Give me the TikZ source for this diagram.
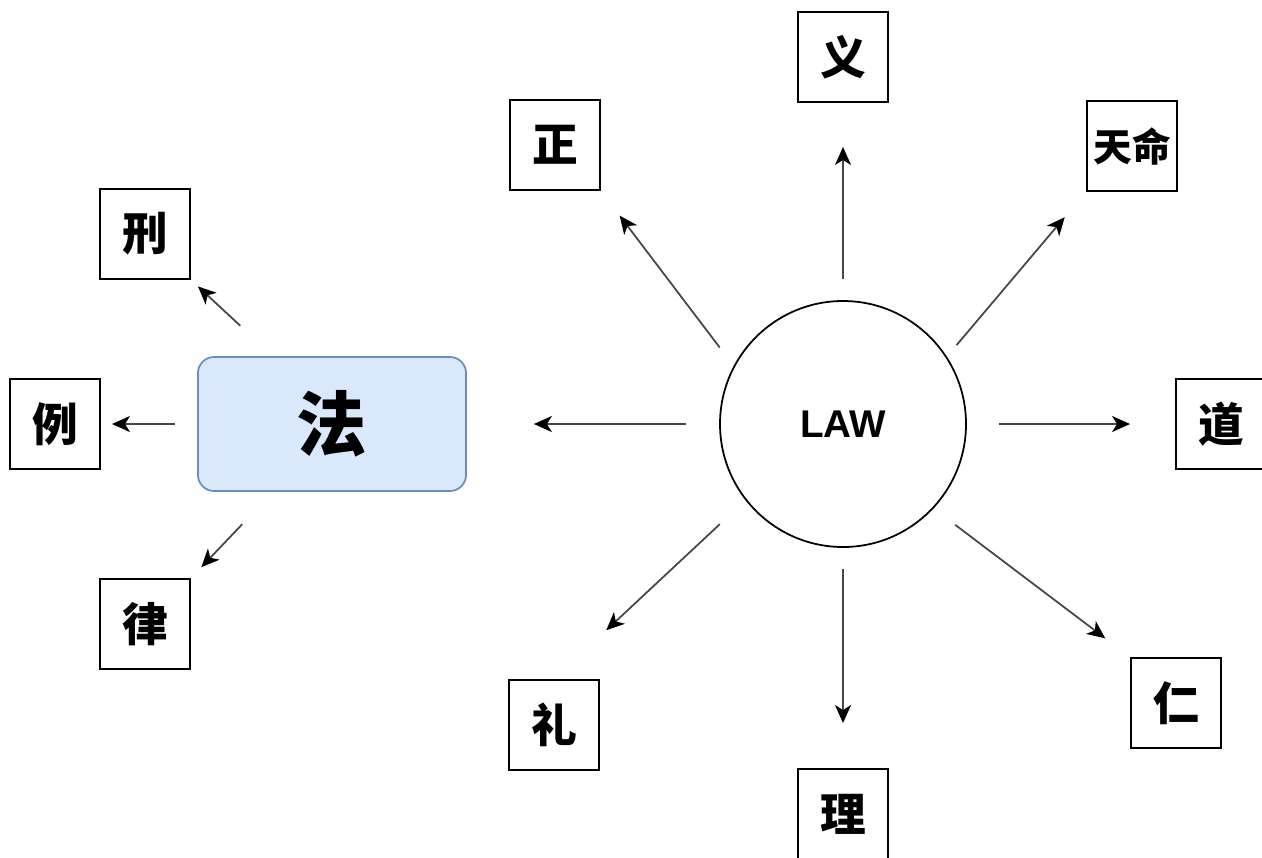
\documentclass[tikz,border=0pt]{standalone}
\usepackage{fontspec}
\usepackage{xcolor}
\usepackage{tikz}
\usetikzlibrary{shapes.geometric, arrows.meta, positioning}
\newfontfamily\cjk{Noto Sans CJK SC}
\newfontfamily\latinsans{Liberation Sans}
\definecolor{fablue}{RGB}{218,232,252}
\definecolor{faborder}{RGB}{108,142,191}
\definecolor{linegray}{RGB}{70,70,70}
\tikzset{
    charbox/.style={rectangle, minimum width=1.8cm, minimum height=1.8cm, inner sep=0pt, text centered, draw, line width=1.1pt, font=\cjk\bfseries\fontsize{26}{26}\selectfont},
    centerbox/.style={rectangle, rounded corners=0.32cm, minimum width=5.36cm, minimum height=2.68cm, text centered, draw=faborder, line width=1pt, fill=fablue, font=\cjk\bfseries\fontsize{40}{40}\selectfont},
    hub/.style={circle, minimum size=4.92cm, inner sep=0pt, draw, line width=1pt, font=\latinsans\bfseries\fontsize{22}{22}\selectfont},
    flow/.style={-{Stealth[length=3.6mm, width=3.2mm, inset=1mm, color=black]}, line width=1pt, color=linegray}
}

\begin{document}
\begin{tikzpicture}
    \useasboundingbox (0,0) rectangle (25.24,-17.14);

    % Left cluster
    \node[centerbox] (fa) at (6.64,-8.48) {法};
    \node[charbox] (xing) at (2.9,-4.68) {刑};
    \node[charbox] (li_case) at (1.1,-8.48) {例};
    \node[charbox] (lv) at (2.9,-12.48) {律};

    % Hub and its ring
    \node[hub] (law) at (16.86,-8.48) {LAW};
    \node[charbox] (zheng) at (11.1,-2.9) {正};
    \node[charbox] (yi) at (16.86,-1.14) {义};
    \node[charbox, font=\cjk\bfseries\fontsize{22}{22}\selectfont] (tianming) at (22.64,-2.92) {天命};
    \node[charbox] (dao) at (24.42,-8.48) {道};
    \node[charbox] (ren) at (23.52,-14.06) {仁};
    \node[charbox] (li_reason) at (16.86,-16.28) {理};
    \node[charbox] (li_rite) at (11.08,-14.5) {礼};

    % Flows out of the box
    \draw[flow, shorten <=0.89cm, shorten >=0.19cm] (fa.131) -- (xing.south east);
    \draw[flow, shorten <=0.44cm, shorten >=0.22cm] (fa.west) -- (li_case.east);
    \draw[flow, shorten <=0.89cm, shorten >=0.3cm] (fa.-131) -- (lv.north east);

    % Flows out of the hub
    \draw[flow, shorten <=0.66cm, shorten >=1.34cm] (law) -- (fa);
    \draw[flow, shorten <=0.46cm, shorten >=0.62cm] (law.152) -- (zheng.south east);
    \draw[flow, shorten <=0.42cm, shorten >=0.88cm] (law) -- (yi);
    \draw[flow, shorten <=0.3cm, shorten >=0.66cm] (law.33) -- (tianming.south west);
    \draw[flow, shorten <=0.64cm, shorten >=0.9cm] (law) -- (dao);
    \draw[flow, shorten <=0.54cm, shorten >=0.62cm] (law.-43) -- (ren.north west);
    \draw[flow, shorten <=0.42cm, shorten >=0.9cm] (law) -- (li_reason);
    \draw[flow, shorten <=0.7cm, shorten >=1.43cm] (law.218) -- (li_rite.north);
\end{tikzpicture}
\end{document}
